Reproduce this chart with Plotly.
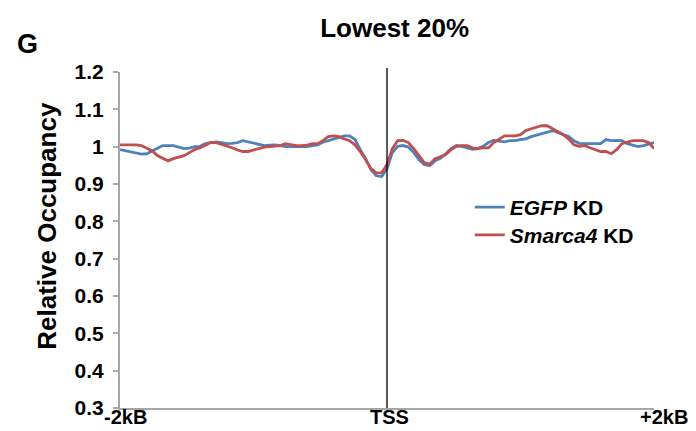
import plotly.graph_objects as go

# Position relative to the TSS (bp), 40 bp bins
positions = list(range(-2000, 2001, 40))

egfp_kd = [
    0.992, 0.989, 0.987, 0.984, 0.980, 0.981, 0.988, 0.995, 1.003, 1.003,
    1.003, 0.999, 0.995, 0.996, 1.000, 1.001, 1.008, 1.011, 1.013, 1.011,
    1.008, 1.009, 1.011, 1.016, 1.013, 1.009, 1.005, 1.003, 1.004, 1.005,
    1.003, 1.000, 1.000, 1.001, 1.001, 1.000, 1.003, 1.005, 1.012, 1.016,
    1.019, 1.023, 1.029, 1.029, 1.019, 0.992, 0.968, 0.938, 0.922, 0.920,
    0.941, 0.984, 1.001, 1.003, 0.999, 0.984, 0.965, 0.952, 0.949, 0.962,
    0.969, 0.981, 0.995, 1.003, 1.001, 0.997, 0.993, 0.995, 1.001, 1.011,
    1.017, 1.015, 1.013, 1.016, 1.016, 1.019, 1.021, 1.027, 1.031, 1.035,
    1.040, 1.043, 1.038, 1.032, 1.027, 1.016, 1.009, 1.008, 1.008, 1.008,
    1.008, 1.019, 1.016, 1.017, 1.016, 1.008, 1.003, 1.000, 1.003, 1.008,
    1.011,
]

smarca4_kd = [
    1.005, 1.005, 1.007, 1.005, 1.003, 0.997, 0.989, 0.976, 0.968, 0.962,
    0.968, 0.973, 0.976, 0.984, 0.992, 0.997, 1.003, 1.011, 1.011, 1.007,
    1.003, 0.997, 0.991, 0.987, 0.987, 0.991, 0.997, 0.999, 1.000, 1.001,
    1.003, 1.008, 1.005, 1.003, 1.003, 1.004, 1.008, 1.008, 1.016, 1.027,
    1.029, 1.027, 1.021, 1.016, 1.005, 0.987, 0.965, 0.941, 0.930, 0.930,
    0.952, 0.995, 1.016, 1.017, 1.011, 0.995, 0.976, 0.957, 0.953, 0.968,
    0.973, 0.979, 0.992, 1.001, 1.003, 1.003, 0.997, 0.995, 0.997, 0.997,
    1.011, 1.019, 1.029, 1.029, 1.029, 1.032, 1.043, 1.048, 1.051, 1.056,
    1.056, 1.048, 1.040, 1.032, 1.021, 1.005, 1.001, 1.003, 0.997, 0.992,
    0.987, 0.987, 0.981, 0.992, 1.008, 1.012, 1.016, 1.016, 1.016, 1.011,
    0.995,
]

y_ticks = [0.3, 0.4, 0.5, 0.6, 0.7, 0.8, 0.9, 1.0, 1.1, 1.2]
y_tick_labels = ["0.3", "0.4", "0.5", "0.6", "0.7", "0.8", "0.9", "1", "1.1", "1.2"]
x_label_pos = [-2000, 0, 2000]
x_labels = ["-2kB", "TSS", "+2kB"]
x_label_shift = [5, 2, 10]

FONT = "Liberation Sans, Arial, sans-serif"
AXIS_GREY = "#a6a6a6"

fig = go.Figure()
fig.add_trace(go.Scatter(
    x=positions, y=egfp_kd, mode="lines", name="<b><i>EGFP</i> KD</b>",
    line=dict(color="#4f81bd", width=2.8), legend="legend",
))
fig.add_trace(go.Scatter(
    x=positions, y=smarca4_kd, mode="lines", name="<b><i>Smarca4</i> KD</b>",
    line=dict(color="#c0504d", width=2.8), legend="legend2",
))

# TSS marker
fig.add_shape(type="line", xref="x", yref="paper", x0=0, x1=0, y0=0, y1=1.012,
              line=dict(color="black", width=1.3))

# x-axis position labels
for pos, lab, sh in zip(x_label_pos, x_labels, x_label_shift):
    fig.add_annotation(x=pos, xref="x", y=0, yref="paper", yanchor="middle",
                       xshift=sh, yshift=-9, borderpad=0,
                       text=f"<b>{lab}</b>", showarrow=False,
                       font=dict(family=FONT, size=20, color="black"))

# y-axis title
fig.add_annotation(x=-0.137, xref="paper", y=0.542, yref="paper",
                   xanchor="center", yanchor="middle", textangle=-90,
                   text="<b>Relative Occupancy</b>", showarrow=False,
                   font=dict(family=FONT, size=26, color="black"))

# Panel letter
fig.add_annotation(x=-0.197, xref="paper", y=1.083, yref="paper",
                   xanchor="left", yanchor="middle", text="<b>G</b>", showarrow=False,
                   font=dict(family=FONT, size=27, color="black"))

legend_style = dict(xanchor="left", yanchor="top", bgcolor="rgba(0,0,0,0)",
                    itemwidth=30, font=dict(family=FONT, size=21, color="black"))

fig.update_layout(
    width=696, height=431,
    margin=dict(l=120, r=42, t=72, b=23),
    paper_bgcolor="white", plot_bgcolor="white",
    font=dict(family=FONT, color="black"),
    title=dict(text="<b>Lowest 20%</b>", x=0.567, xanchor="center",
               y=0.935, yanchor="middle",
               font=dict(family=FONT, size=26, color="black")),
    showlegend=True,
    legend=dict(x=0.655, y=0.658, **legend_style),
    legend2=dict(x=0.655, y=0.575, **legend_style),
    xaxis=dict(range=[-2000, 2000], showgrid=False, zeroline=False,
               showticklabels=False, ticks="", showline=True,
               linecolor=AXIS_GREY, linewidth=2),
    yaxis=dict(range=[0.3, 1.2], tickvals=y_ticks,
               ticktext=[f"<b>{t}</b>" for t in y_tick_labels],
               showgrid=False, zeroline=False, showline=True,
               linecolor=AXIS_GREY, linewidth=2, ticks="outside", ticklen=5,
               tickwidth=2, tickcolor=AXIS_GREY, ticklabelstandoff=5,
               tickfont=dict(family=FONT, size=21, color="black")),
)

fig.write_html("out.html")
